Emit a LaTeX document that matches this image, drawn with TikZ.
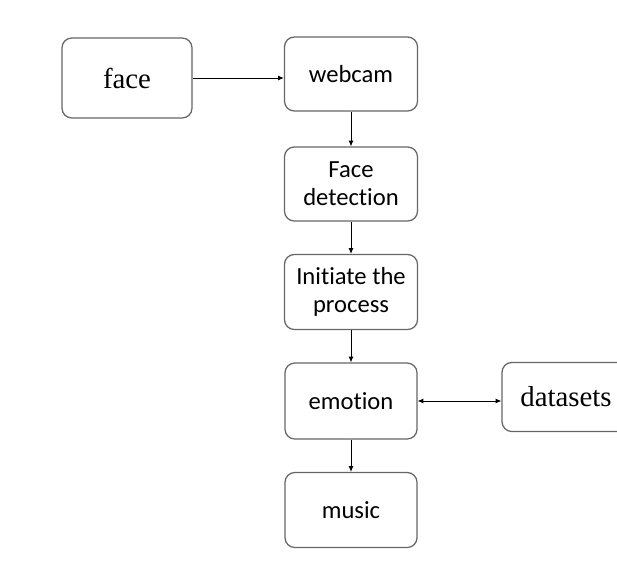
\documentclass[tikz,border=0pt]{standalone}
\usepackage{fontspec}
\setmainfont{Liberation Serif}
\newfontfamily\calfont[Ligatures=NoCommon]{Carlito}
\usetikzlibrary{arrows.meta,positioning}

\tikzset{
  box/.style={draw=black!60, line width=0.9pt, rounded corners=7pt,
    minimum width=3.325cm, minimum height=1.85cm, align=center,
    font=\calfont\fontsize{17.5}{20}\selectfont},
  serifbox/.style={box, font=\fontsize{20.5}{24}\selectfont},
  tip/.style={Latex[length=4pt,width=3.5pt]},
  link/.style={black, line width=0.6pt, -{Latex[length=4pt,width=3.5pt]}},
  biglink/.style={black, line width=0.6pt, {Latex[length=4pt,width=3.5pt]}-{Latex[length=4pt,width=3.5pt]}}
}

\begin{document}
\begin{tikzpicture}[x=0.025cm, y=-0.025cm]
\useasboundingbox (0,0) rectangle (617,567);
\clip (0,0) rectangle (617,567);

% boxes
\node[serifbox, minimum width=3.25cm, minimum height=2cm] (face) at (127,78) {face};
\node[box] (webcam) at (351,74) {webcam};
\node[box] (detect) at (351,184) {Face\\detection};
\node[box, minimum height=1.875cm] (init) at (351,292) {Initiate the\\process};
\node[box, minimum width=3.3cm, minimum height=1.9cm] (emotion) at (351,401) {emotion};
\node[box, minimum width=3.3cm, minimum height=1.875cm] (music) at (351,510) {music};
\node[serifbox, minimum width=3.2cm, minimum height=1.725cm] (data) at (566,397) {datasets};

% arrows
\draw[link] (face.east) -- (face.east -| webcam.west);
\draw[link] (webcam) -- (detect);
\draw[link] (detect) -- (init);
\draw[link] (init) -- (emotion);
\draw[link] (emotion) -- (music);
\draw[biglink] (emotion.east) -- (emotion.east -| data.west);

\end{tikzpicture}
\end{document}
